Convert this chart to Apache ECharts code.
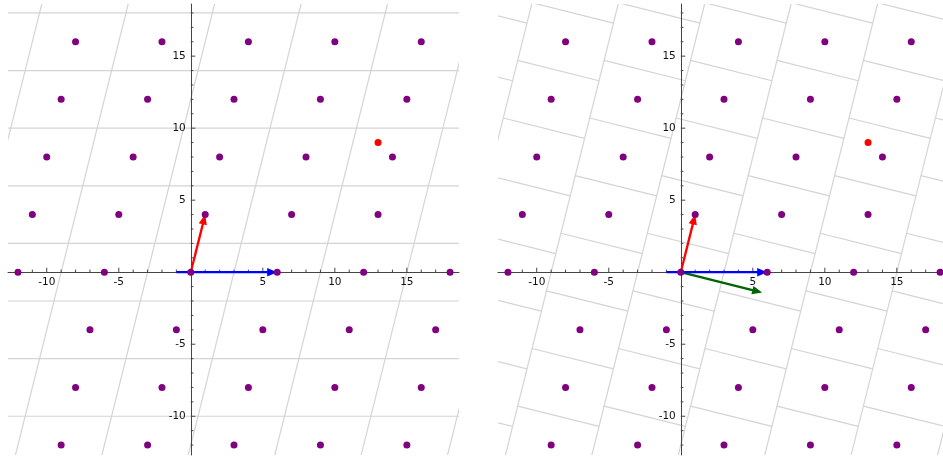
<!DOCTYPE html>
<html>
<head>
<meta charset="utf-8">
<script src="https://cdn.jsdelivr.net/npm/echarts@6/dist/echarts.min.js"></script>
<style>
  html, body { margin: 0; padding: 0; background: #ffffff; }
  #chart { width: 943px; height: 459px; }
</style>
</head>
<body>
<div id="chart"></div>
<script>
// Lattice basis vectors and the target point
const basisA = [6, 0];
const basisB = [1, 4];
const target = [13, 9];
const blueTailStart = [-1, 0];

// Lattice points inside the window, row by row
const rowY = [16, 12, 8, 4, 0, -4, -8, -12];
const rowX = [
  [-8, -2, 4, 10, 16],
  [-9, -3, 3, 9, 15],
  [-10, -4, 2, 8, 14],
  [-11, -5, 1, 7, 13],
  [-12, -6, 0, 6, 12, 18],
  [-7, -1, 5, 11, 17],
  [-8, -2, 4, 10, 16],
  [-9, -3, 3, 9, 15]
];

// Axis window and labelled ticks
const axisMin = -12.69;
const axisMax = 18.62;
const tickLabels = [-10, -5, 5, 10, 15];

// ---- geometry helpers ----
const add = (p, q) => [p[0] + q[0], p[1] + q[1]];
const mul = (s, p) => [s * p[0], s * p[1]];
const dot = (p, q) => p[0] * q[0] + p[1] * q[1];

// Gram-Schmidt: component of A orthogonal to B
const mu = dot(basisA, basisB) / dot(basisB, basisB);
const gsA = add(basisA, mul(-mu, basisB));

// Fundamental parallelogram edges (left panel)
const paraSegs = [];
for (let k = -7; k <= 7; k++) {
  const c = mul(k + 0.5, basisB);
  const p = add(c, mul(-8, basisA)), q = add(c, mul(8, basisA));
  paraSegs.push([p[0], p[1], q[0], q[1]]);
}
const columnSegs = [];
for (let j = -6; j <= 6; j++) {
  const c = mul(j + 0.5, basisA);
  const p = add(c, mul(-10, basisB)), q = add(c, mul(10, basisB));
  columnSegs.push([p[0], p[1], q[0], q[1]]);
}
// Orthogonalised (brick) cell edges (right panel)
const brickSegs = [];
for (let i = -6; i <= 6; i++) {
  for (let j = -12; j <= 12; j++) {
    const beta = j + mu * i + 0.5;
    const p = add(mul(i - 0.5, gsA), mul(beta, basisB));
    const q = add(mul(i + 0.5, gsA), mul(beta, basisB));
    brickSegs.push([p[0], p[1], q[0], q[1]]);
  }
}

const latticePts = [];
rowY.forEach((y, r) => rowX[r].forEach(x => latticePts.push([x, y])));

// integer tick positions; labelled ones are longer
const tickVals = [];
for (let v = Math.ceil(axisMin); v <= Math.floor(axisMax); v++) {
  if (v !== 0) tickVals.push([v, tickLabels.indexOf(v) >= 0 ? 1 : 0]);
}

const FONT = 'DejaVu Sans';
const AXIS_COLOR = '#444';
const LABEL_COLOR = '#111';
const LABEL_SIZE = 10.5;

function segmentSeries(g, segs) {
  return {
    type: 'custom', xAxisIndex: g, yAxisIndex: g, z: 1, clip: true, silent: true,
    data: segs, encode: { x: [0, 2], y: [1, 3] },
    renderItem(params, api) {
      const p = api.coord([api.value(0), api.value(1)]);
      const q = api.coord([api.value(2), api.value(3)]);
      return { type: 'line', shape: { x1: p[0], y1: p[1], x2: q[0], y2: q[1] },
        style: { stroke: '#d4d4d4', lineWidth: 1.2, fill: null } };
    }
  };
}

// ticks and tick labels drawn along the zero lines
function tickSeries(g, dim) {
  return {
    type: 'custom', xAxisIndex: g, yAxisIndex: g, z: 2, silent: true, clip: false,
    data: tickVals, encode: dim === 'x' ? { x: 0 } : { y: 0 },
    renderItem(params, api) {
      const v = api.value(0), major = api.value(1) === 1;
      const len = major ? 4.5 : 2.6;
      const children = [];
      if (dim === 'x') {
        const p = api.coord([v, 0]);
        children.push({ type: 'line', shape: { x1: p[0], y1: p[1], x2: p[0], y2: p[1] - len },
          style: { stroke: AXIS_COLOR, lineWidth: 1 } });
        if (major) children.push({ type: 'text', x: p[0], y: p[1] + 5,
          style: { text: String(v), fill: LABEL_COLOR, fontFamily: FONT, fontSize: LABEL_SIZE,
            align: 'center', verticalAlign: 'top' } });
      } else {
        const p = api.coord([0, v]);
        children.push({ type: 'line', shape: { x1: p[0], y1: p[1], x2: p[0] + len, y2: p[1] },
          style: { stroke: AXIS_COLOR, lineWidth: 1 } });
        if (major) children.push({ type: 'text', x: p[0] - 5, y: p[1],
          style: { text: String(v), fill: LABEL_COLOR, fontFamily: FONT, fontSize: LABEL_SIZE,
            align: 'right', verticalAlign: 'middle' } });
      }
      return { type: 'group', children };
    }
  };
}

function arrowSeries(g, from, to, color) {
  return {
    type: 'custom', xAxisIndex: g, yAxisIndex: g, z: 3, silent: true,
    data: [[from[0], from[1], to[0], to[1]]], encode: { x: [0, 2], y: [1, 3] },
    renderItem(params, api) {
      const p = api.coord([api.value(0), api.value(1)]);
      const q = api.coord([api.value(2), api.value(3)]);
      const dx = q[0] - p[0], dy = q[1] - p[1];
      const L = Math.hypot(dx, dy);
      const ux = dx / L, uy = dy / L, nx = -uy, ny = ux;
      const hl = 10, hw = 4.2;
      const bx = q[0] - ux * hl, by = q[1] - uy * hl;
      return { type: 'group', children: [
        { type: 'line', shape: { x1: p[0], y1: p[1], x2: bx + ux * 2, y2: by + uy * 2 },
          style: { stroke: color, lineWidth: 2.3, fill: null } },
        { type: 'polygon', shape: { points: [[q[0], q[1]], [bx + nx * hw, by + ny * hw], [bx - nx * hw, by - ny * hw]] },
          style: { fill: color } }
      ] };
    }
  };
}

function pointSeries(g, pts, color) {
  return {
    type: 'scatter', xAxisIndex: g, yAxisIndex: g, z: 4, silent: true,
    symbol: 'circle', symbolSize: 7, data: pts,
    itemStyle: { color: color, opacity: 1 }
  };
}

function axisFor(g) {
  return {
    gridIndex: g, type: 'value', min: axisMin, max: axisMax, z: 2,
    axisLine: { onZero: true, lineStyle: { color: AXIS_COLOR, width: 1 } },
    axisTick: { show: false }, minorTick: { show: false }, splitLine: { show: false },
    axisLabel: { show: false }
  };
}

const chart = echarts.init(document.getElementById('chart'), null, { renderer: 'canvas' });
chart.setOption({
  animation: false,
  backgroundColor: '#ffffff',
  grid: [
    { left: 8, top: 4, width: 451, height: 451, containLabel: false, outerBoundsMode: 'none' },
    { left: 498, top: 4, width: 451, height: 451, containLabel: false, outerBoundsMode: 'none' }
  ],
  xAxis: [axisFor(0), axisFor(1)],
  yAxis: [axisFor(0), axisFor(1)],
  series: [
    // left: parallelogram cells
    segmentSeries(0, paraSegs),
    segmentSeries(0, columnSegs),
    tickSeries(0, 'x'), tickSeries(0, 'y'),
    arrowSeries(0, [0, 0], basisB, '#ff0000'),
    arrowSeries(0, blueTailStart, basisA, '#0000ff'),
    pointSeries(0, latticePts, '#800080'),
    pointSeries(0, [target], '#ff0000'),
    // right: orthogonalised cells
    segmentSeries(1, columnSegs),
    segmentSeries(1, brickSegs),
    tickSeries(1, 'x'), tickSeries(1, 'y'),
    arrowSeries(1, [0, 0], gsA, '#006400'),
    arrowSeries(1, [0, 0], basisB, '#ff0000'),
    arrowSeries(1, blueTailStart, basisA, '#0000ff'),
    pointSeries(1, latticePts, '#800080'),
    pointSeries(1, [target], '#ff0000')
  ]
});
</script>
</body>
</html>
